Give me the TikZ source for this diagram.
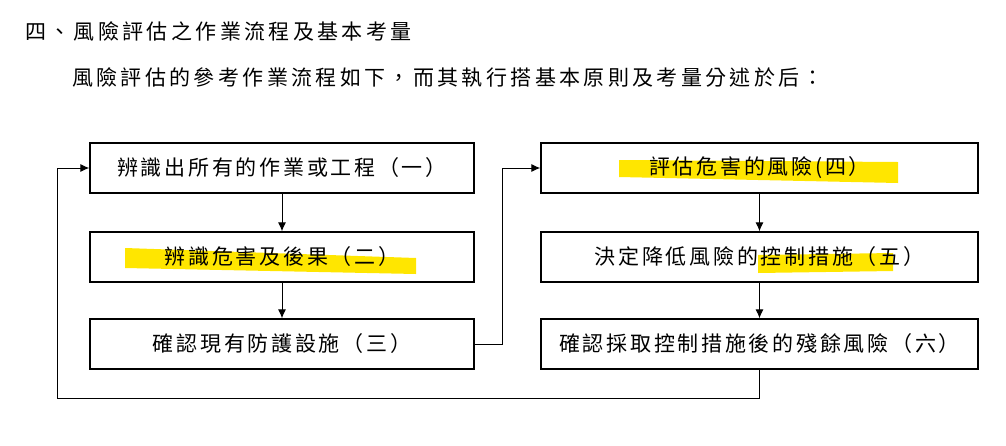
\documentclass[tikz,border=0pt]{standalone}
\usepackage{fontspec}
\newfontfamily\cjk[LetterSpace=13]{Noto Sans CJK TC}
\newfontfamily\cjkhead[LetterSpace=16]{Noto Sans CJK TC}
\usetikzlibrary{arrows.meta}
\tikzset{>={Latex[width=8pt,length=9pt]}}
\definecolor{marker}{HTML}{FFE600}
\tikzset{
  stepbox/.style={draw, line width=1.3pt, minimum height=50pt, inner sep=0pt,
    font=\cjk\fontsize{21}{24}\selectfont},
  leftbox/.style={stepbox, minimum width=384pt},
  rightbox/.style={stepbox, minimum width=437pt},
  headtext/.style={anchor=west, inner sep=0pt, font=\cjkhead\fontsize{21}{24}\selectfont}
}

\begin{document}
\begin{tikzpicture}[x=1pt, y=-1pt]

  \useasboundingbox (0,0) rectangle (1006,445); %% page size

  %% marker strokes
  \fill[marker] (125,248) -- (416,258) -- (416,274) -- (125,268) -- cycle;
  \fill[marker] (619,160) -- (898,162) -- (898,183) -- (619,177) -- cycle;
  \fill[marker] (758,255) -- (893,253) -- (893,271) -- (758,273) -- cycle;

  \node[headtext] (title) at (25,32) {四、風險評估之作業流程及基本考量};
  \node[headtext] (intro) at (72,78) {風險評估的參考作業流程如下，而其執行搭基本原則及考量分述於后：};

  \node[leftbox] (s1) at (282,168) {辨識出所有的作業或工程（一）};
  \node[leftbox] (s2) at (282,257) {辨識危害及後果（二）};
  \node[leftbox] (s3) at (282,344) {確認現有防護設施（三）};

  \node[rightbox] (s4) at (759.5,168) {評估危害的風險(四）};
  \node[rightbox] (s5) at (759.5,257) {決定降低風險的控制措施（五）};
  \node[rightbox] (s6) at (759.5,344) {確認採取控制措施後的殘餘風險（六）};

  \coordinate (back) at (57,398);

  \draw[->, line width=1pt] (s1) -- (s2);
  \draw[->, line width=1pt] (s2) -- (s3);
  \draw[->, line width=1pt] (s3.east) -- ++(28,0) |- (s4.west);
  \draw[->, line width=1pt] (s4) -- (s5);
  \draw[->, line width=1pt] (s5) -- (s6);
  \draw[->, line width=1pt] (s6.south) |- (back) |- (s1.west);

\end{tikzpicture}
\end{document}
